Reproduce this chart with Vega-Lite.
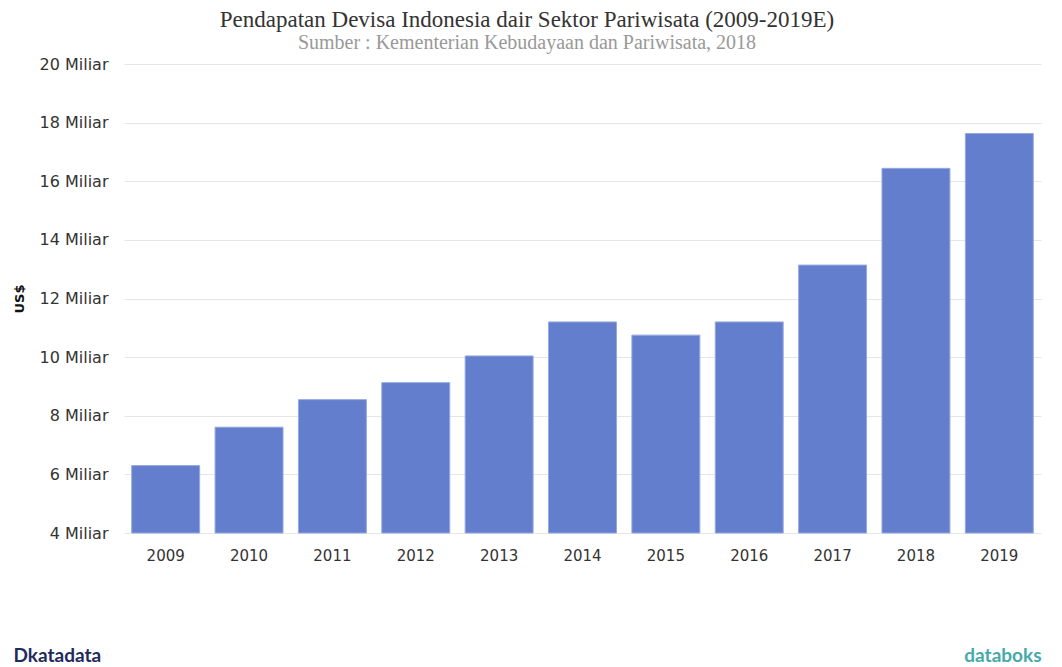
{
  "$schema": "https://vega.github.io/schema/vega-lite/v6.json",
  "width": 917,
  "height": 469,
  "autosize": {"type": "none"},
  "padding": {"left": 124, "top": 64, "right": 21, "bottom": 134},
  "background": "white",
  "title": {
    "text": "Pendapatan Devisa Indonesia dair Sektor Pariwisata (2009-2019E)",
    "subtitle": "Sumber : Kementerian Kebudayaan dan Pariwisata, 2018",
    "font": "Liberation Serif",
    "fontSize": 23,
    "fontWeight": "normal",
    "color": "#333333",
    "subtitleFont": "Liberation Serif",
    "subtitleFontSize": 20,
    "subtitleColor": "#999999",
    "subtitlePadding": 1,
    "anchor": "middle",
    "frame": "bounds",
    "offset": 3
  },
  "data": {
    "values": [
      {"year": "2009", "value": 6.30},
      {"year": "2010", "value": 7.61},
      {"year": "2011", "value": 8.55},
      {"year": "2012", "value": 9.13},
      {"year": "2013", "value": 10.04},
      {"year": "2014", "value": 11.20},
      {"year": "2015", "value": 10.75},
      {"year": "2016", "value": 11.20},
      {"year": "2017", "value": 13.14},
      {"year": "2018", "value": 16.44},
      {"year": "2019", "value": 17.63}
    ]
  },
  "layer": [
    {
      "mark": {"type": "bar", "color": "#627ecc", "stroke": "#95a8e0", "strokeWidth": 1},
      "encoding": {
        "x": {
          "field": "year",
          "type": "ordinal",
          "scale": {"paddingInner": 0.185, "paddingOuter": 0.0925},
          "axis": {
            "title": "databoks",
            "titleFont": "Lato",
            "titleFontSize": 19,
            "titleFontWeight": "bold",
            "titleColor": "#46aaa8",
            "titleX": 917,
            "titleY": 128,
            "titleAlign": "right",
            "titleBaseline": "alphabetic",
            "labelAngle": 0,
            "labelFont": "DejaVu Sans",
            "labelFontSize": 15,
            "labelColor": "#333333",
            "labelPadding": 15,
            "ticks": false,
            "tickSize": 0,
            "domain": false,
            "grid": false
          }
        },
        "y": {
          "field": "value",
          "type": "quantitative",
          "scale": {"domain": [4, 20], "zero": false, "nice": false},
          "axis": {
            "title": "US$",
            "titleFont": "DejaVu Sans",
            "titleFontSize": 13,
            "titleFontWeight": "bold",
            "titleColor": "#111111",
            "titlePadding": 13,
            "values": [4, 6, 8, 10, 12, 14, 16, 18, 20],
            "labelExpr": "datum.value + ' Miliar'",
            "labelFont": "DejaVu Sans",
            "labelFontSize": 16,
            "labelColor": "#333333",
            "labelPadding": 16,
            "ticks": false,
            "tickSize": 0,
            "domain": false,
            "grid": true,
            "gridColor": "#e6e6e6",
            "gridWidth": 1
          }
        },
        "y2": {"datum": 4}
      }
    },
    {
      "mark": {"type": "rule", "opacity": 0},
      "encoding": {
        "x": {
          "field": "year",
          "type": "ordinal",
          "axis": {
            "orient": "bottom",
            "title": "Dkatadata",
            "titleFont": "Lato",
            "titleFontSize": 19,
            "titleFontWeight": "bold",
            "titleColor": "#1f2b5c",
            "titleX": -111,
            "titleY": 128,
            "titleAlign": "left",
            "titleBaseline": "alphabetic",
            "labels": false,
            "ticks": false,
            "domain": false,
            "grid": false
          }
        }
      }
    }
  ],
  "resolve": {"axis": {"x": "independent"}},
  "config": {"view": {"stroke": null}}
}
